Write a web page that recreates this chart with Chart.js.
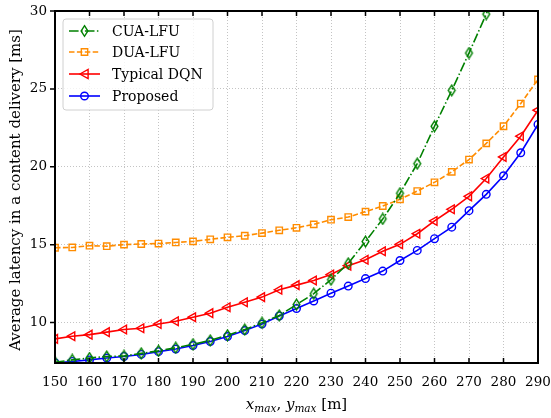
<!DOCTYPE html>
<html>
<head>
<meta charset="utf-8">
<script src="https://cdn.jsdelivr.net/npm/chart.js@4.4.0/dist/chart.umd.min.js"></script>
<style>
  html, body { margin: 0; padding: 0; background: #fff; }
</style>
</head>
<body>
<canvas id="chart" width="551" height="418"></canvas>
<script>
// x values (x_max = y_max, metres)
const xValues = [150, 155, 160, 165, 170, 175, 180, 185, 190, 195, 200, 205, 210, 215, 220,
  225, 230, 235, 240, 245, 250, 255, 260, 265, 270, 275, 280, 285, 290];

const cuaLfu = [7.45, 7.6, 7.72, 7.82, 7.85, 8.02, 8.18, 8.38, 8.6, 8.85, 9.18, 9.55, 9.98, 10.45, 11.15,
  11.85, 12.75, 13.8, 15.2, 16.65, 18.3, 20.2, 22.6, 24.9, 27.3, 29.8, 32.8];
const duaLfu = [14.8, 14.82, 14.93, 14.9, 15.0, 15.04, 15.07, 15.14, 15.21, 15.34, 15.47, 15.57, 15.74, 15.92, 16.08,
  16.3, 16.6, 16.77, 17.12, 17.48, 17.91, 18.44, 19.0, 19.67, 20.46, 21.5, 22.6, 24.06, 25.61];
const typicalDqn = [8.95, 9.12, 9.22, 9.38, 9.55, 9.63, 9.9, 10.08, 10.34, 10.6, 10.98, 11.3, 11.63, 12.1, 12.4,
  12.7, 13.08, 13.65, 14.03, 14.57, 15.02, 15.7, 16.52, 17.27, 18.1, 19.24, 20.63, 21.96, 23.63];
const proposed = [7.42, 7.5, 7.6, 7.72, 7.82, 7.95, 8.13, 8.3, 8.52, 8.78, 9.1, 9.48, 9.9, 10.42, 10.9,
  11.38, 11.88, 12.34, 12.82, 13.3, 13.98, 14.63, 15.38, 16.12, 17.18, 18.23, 19.42, 20.9, 22.72];

const seriesLabels = ["CUA-LFU", "DUA-LFU", "Typical DQN", "Proposed"];
const xTicks = [150, 160, 170, 180, 190, 200, 210, 220, 230, 240, 250, 260, 270, 280, 290];
const yTicks = [10, 15, 20, 25, 30];

const FONT = "'DejaVu Serif', serif";
Chart.defaults.font.family = FONT;
Chart.defaults.color = "#000";

function toPoints(ys) {
  return ys.map((y, i) => ({ x: xValues[i], y: y }));
}

// thin diamond marker (matplotlib 'd')
function diamondCanvas(color) {
  const c = document.createElement("canvas");
  c.width = 11;
  c.height = 13;
  const g = c.getContext("2d");
  drawMarker(g, "diamond", 5.5, 6.5, color);
  return c;
}

function drawMarker(g, kind, x, y, color) {
  g.save();
  g.setLineDash([]);
  g.strokeStyle = color;
  g.lineWidth = 1.4;
  g.beginPath();
  if (kind === "diamond") {
    g.moveTo(x, y - 5.3);
    g.lineTo(x + 3.4, y);
    g.lineTo(x, y + 5.3);
    g.lineTo(x - 3.4, y);
    g.closePath();
  } else if (kind === "rect") {
    g.rect(x - 3.2, y - 3.2, 6.4, 6.4);
  } else if (kind === "triLeft") {
    g.moveTo(x - 4.6, y);
    g.lineTo(x + 3.6, y - 4.6);
    g.lineTo(x + 3.6, y + 4.6);
    g.closePath();
  } else {
    g.arc(x, y, 3.8, 0, Math.PI * 2);
  }
  g.stroke();
  g.restore();
}

const styles = [
  { color: "#008000", dash: [9.6, 2.4, 1.5, 2.4], marker: "diamond" },
  { color: "#ff8c00", dash: [5.5, 2.4], marker: "rect" },
  { color: "#ff0000", dash: [], marker: "triLeft" },
  { color: "#0000ff", dash: [], marker: "circle" },
];
const seriesData = [cuaLfu, duaLfu, typicalDqn, proposed];

const datasets = seriesData.map((ys, i) => {
  const s = styles[i];
  const ds = {
    label: seriesLabels[i],
    data: toPoints(ys),
    borderColor: s.color,
    borderWidth: 1.6,
    borderDash: s.dash,
    backgroundColor: "transparent",
    pointBackgroundColor: "transparent",
    pointBorderColor: s.color,
    pointBorderWidth: 1.4,
    tension: 0,
  };
  if (s.marker === "diamond") {
    ds.pointStyle = diamondCanvas(s.color);
  } else if (s.marker === "rect") {
    ds.pointStyle = "rect";
    ds.pointRadius = 4.5;
  } else if (s.marker === "triLeft") {
    ds.pointStyle = "triangle";
    ds.pointRotation = -90;
    ds.pointRadius = 5;
  } else {
    ds.pointStyle = "circle";
    ds.pointRadius = 3.8;
  }
  return ds;
});

// spines, ticks, axis titles and legend
const decorations = {
  id: "decorations",
  afterDatasetsDraw(chart) {
    const { ctx, chartArea: a, scales } = chart;
    ctx.save();
    ctx.strokeStyle = "#000";
    ctx.lineWidth = 1.5;
    ctx.beginPath();
    xTicks.forEach((t) => {
      const px = scales.x.getPixelForValue(t);
      ctx.moveTo(px, a.bottom);
      ctx.lineTo(px, a.bottom - 5);
      ctx.moveTo(px, a.top);
      ctx.lineTo(px, a.top + 5);
    });
    yTicks.forEach((t) => {
      const py = scales.y.getPixelForValue(t);
      ctx.moveTo(a.left, py);
      ctx.lineTo(a.left - 5, py);
    });
    ctx.stroke();
    ctx.lineWidth = 2;
    ctx.strokeRect(a.left, a.top, a.right - a.left, a.bottom - a.top);
    ctx.restore();
  },
  afterDraw(chart) {
    const { ctx, chartArea: a } = chart;
    ctx.save();
    ctx.fillStyle = "#000";

    // y title
    ctx.translate(16, (a.top + a.bottom) / 2 + 3);
    ctx.rotate(-Math.PI / 2);
    ctx.font = "15px " + FONT;
    ctx.textAlign = "center";
    ctx.textBaseline = "middle";
    ctx.fillText("Average latency in a content delivery [ms]", 0, 0);
    ctx.setTransform(1, 0, 0, 1, 0, 0);

    // x title: x_max, y_max [m]
    const parts = [
      { t: "x", f: "italic 15px " + FONT, dy: 0 },
      { t: "max", f: "italic 10.5px " + FONT, dy: 3 },
      { t: ", ", f: "15px " + FONT, dy: 0 },
      { t: "y", f: "italic 15px " + FONT, dy: 0 },
      { t: "max", f: "italic 10.5px " + FONT, dy: 3 },
      { t: " [m]", f: "15px " + FONT, dy: 0 },
    ];
    let w = 0;
    parts.forEach((p) => { ctx.font = p.f; p.w = ctx.measureText(p.t).width; w += p.w; });
    let x = (a.left + a.right) / 2 - w / 2;
    ctx.textAlign = "left";
    ctx.textBaseline = "alphabetic";
    parts.forEach((p) => {
      ctx.font = p.f;
      ctx.fillText(p.t, x, 409 + p.dy);
      x += p.w;
    });

    // legend
    const lx = 63, ly = 19, lw = 150, lh = 91;
    ctx.beginPath();
    ctx.roundRect(lx, ly, lw, lh, 3);
    ctx.fillStyle = "rgba(255,255,255,0.8)";
    ctx.fill();
    ctx.strokeStyle = "#d0d0d0";
    ctx.lineWidth = 1;
    ctx.stroke();
    const rows = [31, 52, 74, 96];
    ctx.font = "14px " + FONT;
    ctx.textBaseline = "middle";
    seriesLabels.forEach((label, i) => {
      const s = styles[i];
      ctx.strokeStyle = s.color;
      ctx.lineWidth = 1.6;
      ctx.setLineDash(s.dash);
      ctx.beginPath();
      ctx.moveTo(69, rows[i]);
      ctx.lineTo(100, rows[i]);
      ctx.stroke();
      ctx.setLineDash([]);
      drawMarker(ctx, s.marker, 84.5, rows[i], s.color);
      ctx.fillStyle = "#000";
      ctx.fillText(label, 112, rows[i] + 1);
    });
    ctx.restore();
  },
};

new Chart(document.getElementById("chart"), {
  type: "line",
  data: { datasets: datasets },
  options: {
    responsive: false,
    animation: false,
    devicePixelRatio: 1,
    layout: { padding: { top: 11, right: 13, left: 0, bottom: 0 } },
    plugins: { legend: { display: false }, tooltip: { enabled: false } },
    scales: {
      x: {
        type: "linear",
        min: 150,
        max: 290,
        afterFit: (scale) => {
          scale.height = 55;
          scale.paddingLeft = 0;
          scale.paddingRight = 0;
        },
        afterBuildTicks: (scale) => { scale.ticks = xTicks.map((v) => ({ value: v })); },
        ticks: { padding: 11, font: { size: 13.5 }, color: "#000", maxRotation: 0 },
        grid: { color: "#c4c4c4", lineWidth: 1, drawTicks: false },
        border: { display: false, dash: [1, 2] },
      },
      y: {
        min: 7.4,
        max: 30,
        afterFit: (scale) => {
          scale.width = 55;
          scale.paddingTop = 0;
          scale.paddingBottom = 0;
        },
        afterBuildTicks: (scale) => { scale.ticks = yTicks.map((v) => ({ value: v })); },
        ticks: { padding: 8, font: { size: 13.5 }, color: "#000" },
        grid: { color: "#c4c4c4", lineWidth: 1, drawTicks: false },
        border: { display: false, dash: [1, 2] },
      },
    },
  },
  plugins: [decorations],
});
</script>
</body>
</html>
